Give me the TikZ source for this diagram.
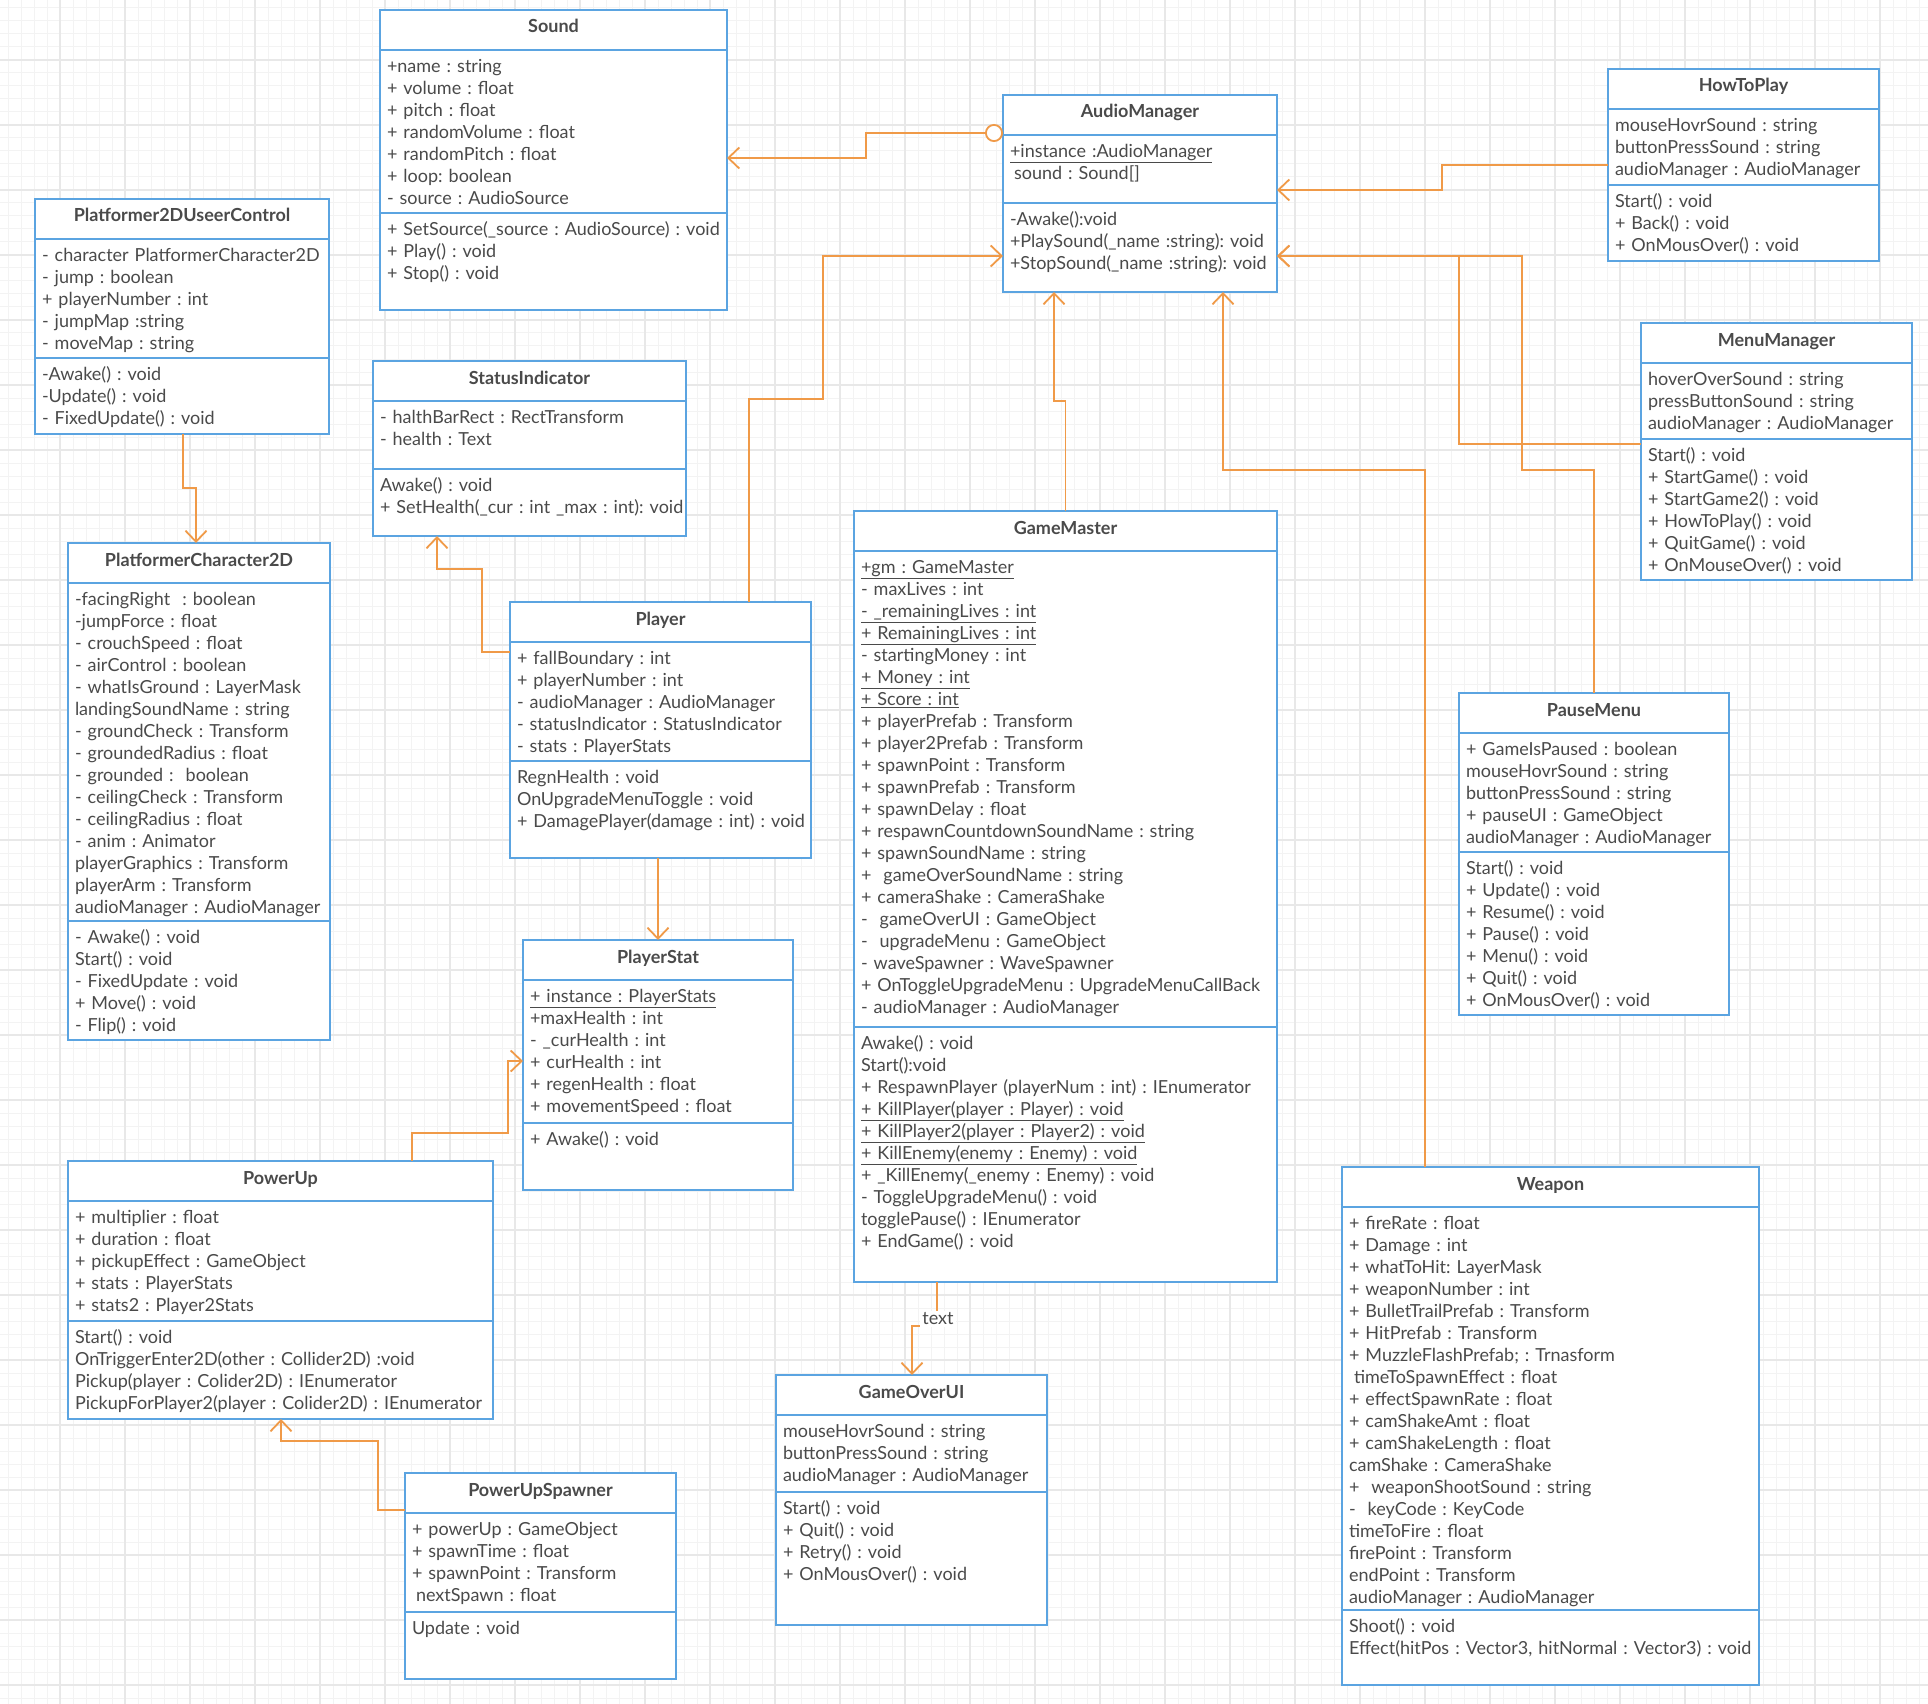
\documentclass[tikz,border=0pt]{standalone}
\usepackage{fontspec}
\setmainfont{Lato}
\usetikzlibrary{arrows.meta}
\definecolor{umlblue}{RGB}{91,164,225}
\definecolor{umlorange}{RGB}{240,154,72}
\definecolor{umltext}{RGB}{74,74,74}
\definecolor{gridfine}{RGB}{243,243,243}
\definecolor{gridmajor}{RGB}{232,232,232}
\frenchspacing
\hyphenpenalty=10000
\exhyphenpenalty=10000

\begin{document}
\begin{tikzpicture}[x=1pt, y=-1pt, font=\fontsize{18}{22}\selectfont,
    >={Straight Barb[length=11pt, width=21pt]},
    umlhead/.style={rectangle, draw=umlblue, line width=2.2pt, fill=white, anchor=north west, outer sep=0pt, inner sep=0pt, text width=#1, align=center, text height=23pt, text depth=17pt, font=\fontsize{18}{22}\selectfont\bfseries, text=umltext},
    umlpart/.style 2 args={rectangle, draw=umlblue, line width=2.2pt, fill=white, anchor=north west, outer sep=0pt, inner xsep=7pt, inner ysep=0pt, text width=#1-14pt, text height=22.5pt, text depth=#2-22.5pt, text=umltext,
        execute at begin node={\raggedright\rightskip=-14pt plus 1fil\relax\frenchspacing\hyphenpenalty=10000\relax}},
    umllink/.style={draw=umlorange, line width=1.8pt},
    umllabel/.style={fill=white, inner sep=2pt, text=umltext}]

    \useasboundingbox (0,0) rectangle (1928,1704);
    \fill[white] (0,0) rectangle (1928,1704);
    % background grid
    \foreach \g in {8,21,...,1928} \draw[gridfine, line width=1pt] (\g,0) -- (\g,1704);
    \foreach \g in {8,21,...,1704} \draw[gridfine, line width=1pt] (0,\g) -- (1928,\g);
    \foreach \g in {60,125,...,1928} \draw[gridmajor, line width=1.3pt] (\g,0) -- (\g,1704);
    \foreach \g in {60,125,...,1704} \draw[gridmajor, line width=1.3pt] (0,\g) -- (1928,\g);

    \node[umlhead=347pt] (sound) at (380,10) {Sound};
    \node[umlpart={347pt}{163pt}] (soundA) at (sound.south west) {+name : string\\ + volume : float\\ + pitch : float\\ + randomVolume : float\\ + randomPitch : float\\ + loop: boolean\\ - source : AudioSource};
    \node[umlpart={347pt}{97pt}] (soundM) at (soundA.south west) {+ SetSource(\_source : AudioSource) : void\\ + Play() : void\\ + Stop() : void};

    \node[umlhead=274pt] (am) at (1003,95) {AudioManager};
    \node[umlpart={274pt}{68pt}] (amA) at (am.south west) {\underline{+instance :AudioManager}\\ \hspace*{4pt}sound : Sound[]};
    \node[umlpart={274pt}{89pt}] (amM) at (amA.south west) {-Awake():void\\ +PlaySound(\_name :string): void\\ +StopSound(\_name :string): void};

    \node[umlhead=271pt] (how) at (1608,69) {HowToPlay};
    \node[umlpart={271pt}{76pt}] (howA) at (how.south west) {mouseHovrSound : string\\ buttonPressSound : string\\ audioManager : AudioManager};
    \node[umlpart={271pt}{76pt}] (howM) at (howA.south west) {Start() : void\\ + Back() : void\\ + OnMousOver() : void};

    \node[umlhead=294pt] (uc) at (35,199) {Platformer2DUseerControl};
    \node[umlpart={294pt}{119pt}] (ucA) at (uc.south west) {- character PlatformerCharacter2D\\ - jump : boolean\\ + playerNumber : int\\ - jumpMap :string\\ - moveMap : string};
    \node[umlpart={294pt}{76pt}] (ucM) at (ucA.south west) {-Awake() : void\\ -Update() : void\\ - FixedUpdate() : void};

    \node[umlhead=313pt] (stat) at (373,361) {StatusIndicator};
    \node[umlpart={313pt}{68pt}] (statA) at (stat.south west) {- halthBarRect : RectTransform\\ - health : Text};
    \node[umlpart={313pt}{67pt}] (statM) at (statA.south west) {Awake() : void\\ + SetHealth(\_cur : int \_max : int): void};

    \node[umlhead=271pt] (menu) at (1641,323) {MenuManager};
    \node[umlpart={271pt}{76pt}] (menuA) at (menu.south west) {hoverOverSound : string\\ pressButtonSound : string\\ audioManager : AudioManager};
    \node[umlpart={271pt}{141pt}] (menuM) at (menuA.south west) {Start() : void\\ + StartGame() : void\\ + StartGame2() : void\\ + HowToPlay() : void\\ + QuitGame() : void\\ + OnMouseOver() : void};

    \node[umlhead=262pt] (pc) at (68,543) {PlatformerCharacter2D};
    \node[umlpart={262pt}{338pt}] (pcA) at (pc.south west) {-facingRight~ : boolean\\ -jumpForce : float\\ - crouchSpeed : float\\ - airControl : boolean\\ - whatIsGround : LayerMask\\ landingSoundName : string\\ - groundCheck : Transform\\ - groundedRadius : float\\ - grounded :~ boolean\\ - ceilingCheck : Transform\\ - ceilingRadius : float\\ - anim : Animator\\ playerGraphics : Transform\\ playerArm : Transform\\ audioManager : AudioManager};
    \node[umlpart={262pt}{119pt}] (pcM) at (pcA.south west) {- Awake() : void\\ Start() : void\\ - FixedUpdate : void\\ + Move() : void\\ - Flip() : void};

    \node[umlhead=301pt] (player) at (510,602) {Player};
    \node[umlpart={301pt}{119pt}] (playerA) at (player.south west) {+ fallBoundary : int\\ + playerNumber : int\\ - audioManager : AudioManager\\ - statusIndicator : StatusIndicator\\ - stats : PlayerStats};
    \node[umlpart={301pt}{97pt}] (playerM) at (playerA.south west) {RegnHealth : void\\ OnUpgradeMenuToggle : void\\ + DamagePlayer(damage : int) : void};

    \node[umlhead=423pt] (gm) at (854,511) {GameMaster};
    \node[umlpart={423pt}{476pt}] (gmA) at (gm.south west) {\underline{+gm : GameMaster}\\ - maxLives : int\\ \underline{- \_remainingLives : int}\\ \underline{+ RemainingLives : int}\\ - startingMoney : int\\ \underline{+ Money : int}\\ \underline{+ Score : int}\\ + playerPrefab : Transform\\ + player2Prefab : Transform\\ + spawnPoint : Transform\\ + spawnPrefab : Transform\\ + spawnDelay : float\\ + respawnCountdownSoundName : string\\ + spawnSoundName : string\\ +~ gameOverSoundName : string\\ + cameraShake : CameraShake\\ -~ gameOverUI : GameObject\\ -~ upgradeMenu : GameObject\\ - waveSpawner : WaveSpawner\\ + OnToggleUpgradeMenu : UpgradeMenuCallBack\\ - audioManager : AudioManager};
    \node[umlpart={423pt}{255pt}] (gmM) at (gmA.south west) {Awake() : void\\ Start():void\\ + RespawnPlayer (playerNum : int) : IEnumerator\\ \underline{+ KillPlayer(player : Player) : void}\\ \underline{+ KillPlayer2(player : Player2) : void}\\ \underline{+ KillEnemy(enemy : Enemy) : void}\\ + \_KillEnemy(\_enemy : Enemy) : void\\ - ToggleUpgradeMenu() : void\\ togglePause() : IEnumerator\\ + EndGame() : void};

    \node[umlhead=270pt] (pause) at (1459,693) {PauseMenu};
    \node[umlpart={270pt}{119pt}] (pauseA) at (pause.south west) {+ GameIsPaused : boolean\\ mouseHovrSound : string\\ buttonPressSound : string\\ + pauseUI : GameObject\\ audioManager : AudioManager};
    \node[umlpart={270pt}{163pt}] (pauseM) at (pauseA.south west) {Start() : void\\ + Update() : void\\ + Resume() : void\\ + Pause() : void\\ + Menu() : void\\ + Quit() : void\\ + OnMousOver() : void};

    \node[umlhead=270pt] (ps) at (523,940) {PlayerStat};
    \node[umlpart={270pt}{143pt}] (psA) at (ps.south west) {\underline{+ instance : PlayerStats}\\ +maxHealth : int\\ - \_curHealth : int\\ + curHealth : int\\ + regenHealth : float\\ + movementSpeed : float};
    \node[umlpart={270pt}{67pt}] (psM) at (psA.south west) {+ Awake() : void};

    \node[umlhead=425pt] (pu) at (68,1161) {PowerUp};
    \node[umlpart={425pt}{120pt}] (puA) at (pu.south west) {+ multiplier : float\\ + duration : float\\ + pickupEffect : GameObject\\ + stats : PlayerStats\\ + stats2 : Player2Stats};
    \node[umlpart={425pt}{98pt}] (puM) at (puA.south west) {Start() : void\\ OnTriggerEnter2D(other : Collider2D) :void\\ Pickup(player : Colider2D) : IEnumerator\\ PickupForPlayer2(player : Colider2D) : IEnumerator};

    \node[umlhead=417pt] (weapon) at (1342,1167) {Weapon};
    \node[umlpart={417pt}{403pt}] (weaponA) at (weapon.south west) {+ fireRate : float\\ + Damage : int\\ + whatToHit: LayerMask\\ + weaponNumber : int\\ + BulletTrailPrefab : Transform\\ + HitPrefab : Transform\\ + MuzzleFlashPrefab; : Trnasform\\ \hspace*{5pt}timeToSpawnEffect : float\\ + effectSpawnRate : float\\ + camShakeAmt : float\\ + camShakeLength : float\\ camShake : CameraShake\\ +~ weaponShootSound : string\\ -~ keyCode : KeyCode\\ timeToFire : float\\ firePoint : Transform\\ endPoint : Transform\\ audioManager : AudioManager};
    \node[umlpart={417pt}{75pt}] (weaponM) at (weaponA.south west) {Shoot() : void\\ Effect(hitPos : Vector3, hitNormal : Vector3) : void};

    \node[umlhead=271pt] (gou) at (776,1375) {GameOverUI};
    \node[umlpart={271pt}{77pt}] (gouA) at (gou.south west) {mouseHovrSound : string\\ buttonPressSound : string\\ audioManager : AudioManager};
    \node[umlpart={271pt}{133pt}] (gouM) at (gouA.south west) {Start() : void\\ + Quit() : void\\ + Retry() : void\\ + OnMousOver() : void};

    \node[umlhead=271pt] (pus) at (405,1473) {PowerUpSpawner};
    \node[umlpart={271pt}{99pt}] (pusA) at (pus.south west) {+ powerUp : GameObject\\ + spawnTime : float\\ + spawnPoint : Transform\\ \hspace*{4pt}nextSpawn : float};
    \node[umlpart={271pt}{67pt}] (pusM) at (pusA.south west) {Update : void};

    % connectors
    \draw[umllink, {Circle[fill=white, length=18pt, width=18pt]}->] ([yshift=2pt]am.south west) -- ++(-137,0) |- (soundA.east |- 0,158);
    \draw[umllink, ->] (howA.west |- 0,165) -- ++(-166,0) |- (amA.east |- 0,190);
    \draw[umllink, ->] (menuM.west |- 0,444) -- ++(-182,0) |- (amM.east |- 0,256);
    \draw[umllink, ->] (pause.north) |- (1522,470) |- (amM.east |- 0,256);
    \draw[umllink, ->] (weapon.north -| 1425,0) -- ++(0,-697) -| (amM.south -| 1223,0);
    \draw[umllink, ->] (gm.north) -- ++(0,-110) -| (amM.south -| 1054,0);
    \draw[umllink, ->] (player.north -| 749,0) -- ++(0,-203) -| (823,256) -- (amM.west |- 0,256);
    \draw[umllink, ->] (playerA.west |- 0,652) -- ++(-28,0) |- (437,569) -- (statM.south -| 437,0);
    \draw[umllink, ->] (playerM.south -| 658,0) -- (ps.north -| 658,0);
    \draw[umllink, ->] (ucM.south -| 183,0) -- ++(0,54) -| (pc.north -| 196,0);
    \draw[umllink, ->] (pu.north -| 412,0) -- ++(0,-28) -| (508,1061) -- (psA.west |- 0,1061);
    \draw[umllink, ->] (pusA.west |- 0,1510) -- ++(-27,0) |- (281,1441) -- (puM.south -| 281,0);
    \draw[umllink, ->] (gmM.south -| 937,0) -- ++(0,44) -| (gou.north -| 912,0);
    \node[umllabel] (gmtext) at (938,1319) {text};
\end{tikzpicture}
\end{document}
